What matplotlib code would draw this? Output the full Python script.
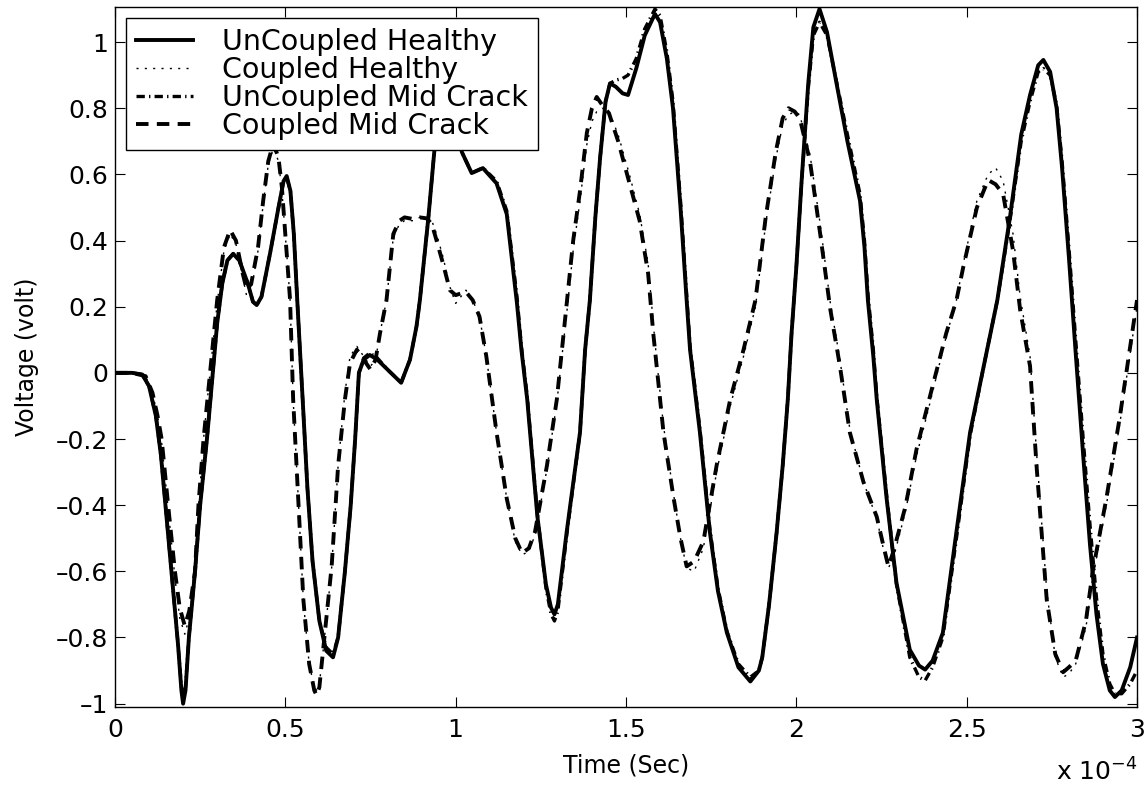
"""
Piezo sensor voltage response: coupled vs uncoupled, healthy vs mid crack
"""
import numpy as np
import matplotlib
matplotlib.use("Agg")
import matplotlib.pyplot as plt
from matplotlib.ticker import FuncFormatter

# time axis in units of 1e-4 s
t_a = [0.00, 0.05, 0.08, 0.10, 0.12, 0.135, 0.15, 0.166, 0.185, 0.195, 0.20, 0.207, 0.217,
       0.235, 0.25, 0.27, 0.287, 0.30, 0.315, 0.33, 0.347, 0.365, 0.39, 0.405, 0.416, 0.43,
       0.455, 0.48, 0.495, 0.504, 0.515, 0.525, 0.535, 0.543, 0.553, 0.565, 0.58, 0.60, 0.62,
       0.64, 0.655, 0.675, 0.692, 0.705, 0.716, 0.73, 0.748, 0.77, 0.80, 0.82, 0.84, 0.866,
       0.885, 0.895, 0.91, 0.92, 0.94, 0.96, 0.98, 1.00, 1.018, 1.047, 1.08, 1.12, 1.15, 1.18,
       1.193, 1.21, 1.24, 1.265, 1.28, 1.29, 1.30, 1.326, 1.365, 1.38, 1.394, 1.41, 1.424,
       1.44, 1.453, 1.47, 1.49, 1.506, 1.53, 1.555, 1.585, 1.60, 1.62, 1.638, 1.66, 1.678,
       1.688, 1.717, 1.746, 1.77, 1.796, 1.83, 1.865, 1.89, 1.90, 1.92, 1.942, 1.96, 1.975,
       1.986, 2.00, 2.015, 2.035, 2.05, 2.068, 2.09, 2.118, 2.15, 2.187, 2.20, 2.21, 2.226,
       2.236, 2.265, 2.294, 2.333, 2.36, 2.378, 2.40, 2.43, 2.47, 2.51, 2.55, 2.59, 2.627,
       2.66, 2.686, 2.71, 2.725, 2.745, 2.764, 2.78, 2.80, 2.82, 2.842, 2.862, 2.881, 2.90,
       2.92, 2.935, 2.955, 2.98, 3.00]

uncoupled_healthy = [0.0, 0.0, -0.005, -0.04, -0.13, -0.25, -0.42, -0.60, -0.82, -0.96, -1.0,
                     -0.96, -0.80, -0.60, -0.40, -0.20, 0.0, 0.15, 0.27, 0.34, 0.36, 0.34, 0.27,
                     0.215, 0.205, 0.23, 0.36, 0.50, 0.58, 0.595, 0.55, 0.42, 0.22, 0.07, -0.12,
                     -0.35, -0.57, -0.75, -0.84, -0.86, -0.80, -0.60, -0.40, -0.20, 0.0, 0.04,
                     0.054, 0.04, 0.01, -0.01, -0.03, 0.04, 0.14, 0.22, 0.37, 0.47, 0.70, 0.85,
                     0.90, 0.80, 0.668, 0.604, 0.619, 0.573, 0.48, 0.21, 0.07, -0.08, -0.435,
                     -0.64, -0.71, -0.73, -0.70, -0.48, -0.18, 0.07, 0.22, 0.47, 0.65, 0.82,
                     0.875, 0.865, 0.845, 0.84, 0.92, 1.02, 1.085, 1.06, 0.95, 0.80, 0.50, 0.22,
                     0.07, -0.18, -0.48, -0.66, -0.785, -0.89, -0.933, -0.90, -0.86, -0.70,
                     -0.484, -0.28, -0.08, 0.12, 0.32, 0.573, 0.875, 1.045, 1.10, 1.03, 0.875,
                     0.70, 0.52, 0.38, 0.22, 0.05, -0.08, -0.38, -0.635, -0.837, -0.885, -0.897,
                     -0.87, -0.786, -0.48, -0.18, 0.02, 0.22, 0.47, 0.72, 0.84, 0.93, 0.946,
                     0.91, 0.80, 0.62, 0.35, 0.06, -0.25, -0.52, -0.73, -0.88, -0.96, -0.98,
                     -0.96, -0.89, -0.80]

uncoupled_midcrack = [0.0, 0.0, -0.005, -0.04, -0.13, -0.25, -0.42, -0.60, -0.82, -0.95, -0.98,
                      -0.95, -0.80, -0.60, -0.40, -0.20, 0.0, 0.15, 0.27, 0.34, 0.36, 0.34, 0.27,
                      0.215, 0.205, 0.23, 0.36, 0.50, 0.58, 0.59, 0.55, 0.42, 0.22, 0.07, -0.12,
                      -0.35, -0.57, -0.75, -0.83, -0.85, -0.80, -0.60, -0.40, -0.20, 0.0, 0.045,
                      0.06, 0.045, 0.01, -0.01, -0.03, 0.04, 0.14, 0.22, 0.37, 0.47, 0.70, 0.85,
                      0.90, 0.80, 0.668, 0.604, 0.62, 0.58, 0.49, 0.23, 0.08, -0.07, -0.43,
                      -0.65, -0.73, -0.75, -0.72, -0.49, -0.18, 0.07, 0.22, 0.47, 0.65, 0.82,
                      0.875, 0.885, 0.89, 0.90, 0.95, 1.04, 1.10, 1.08, 0.97, 0.82, 0.52, 0.24,
                      0.08, -0.17, -0.47, -0.65, -0.78, -0.88, -0.92, -0.90, -0.86, -0.70,
                      -0.484, -0.28, -0.08, 0.12, 0.32, 0.57, 0.86, 1.02, 1.06, 1.02, 0.88,
                      0.72, 0.54, 0.40, 0.24, 0.07, -0.07, -0.37, -0.64, -0.86, -0.92, -0.93,
                      -0.89, -0.80, -0.50, -0.19, 0.02, 0.22, 0.46, 0.70, 0.82, 0.91, 0.92,
                      0.90, 0.81, 0.64, 0.38, 0.10, -0.20, -0.46, -0.68, -0.85, -0.94, -0.97,
                      -0.97, -0.94, -0.90]

t_b = [0.00, 0.05, 0.09, 0.11, 0.125, 0.137, 0.156, 0.176, 0.19, 0.205, 0.218, 0.235, 0.245,
       0.26, 0.279, 0.30, 0.32, 0.338, 0.355, 0.375, 0.387, 0.40, 0.42, 0.435, 0.45, 0.465,
       0.48, 0.49, 0.505, 0.514, 0.523, 0.538, 0.553, 0.57, 0.585, 0.592, 0.60, 0.611, 0.636,
       0.655, 0.675, 0.69, 0.71, 0.73, 0.75, 0.765, 0.778, 0.797, 0.817, 0.835, 0.85, 0.875,
       0.895, 0.915, 0.93, 0.944, 0.963, 0.983, 1.00, 1.03, 1.05, 1.07, 1.09, 1.12, 1.15,
       1.175, 1.195, 1.215, 1.233, 1.268, 1.297, 1.327, 1.345, 1.365, 1.385, 1.40, 1.414,
       1.43, 1.45, 1.477, 1.51, 1.54, 1.565, 1.58, 1.59, 1.61, 1.64, 1.66, 1.678, 1.70,
       1.727, 1.766, 1.806, 1.845, 1.88, 1.91, 1.94, 1.96, 1.977, 1.995, 2.01, 2.04, 2.07,
       2.10, 2.128, 2.157, 2.197, 2.236, 2.255, 2.27, 2.285, 2.32, 2.353, 2.39, 2.44, 2.47,
       2.49, 2.53, 2.563, 2.585, 2.607, 2.636, 2.657, 2.686, 2.705, 2.735, 2.76, 2.783,
       2.80, 2.82, 2.85, 2.87, 2.91, 2.95, 3.00]

coupled_midcrack = [0.0, 0.0, -0.01, -0.06, -0.13, -0.20, -0.40, -0.60, -0.71, -0.765, -0.72,
                    -0.60, -0.40, -0.20, 0.0, 0.22, 0.38, 0.432, 0.40, 0.30, 0.25, 0.27, 0.38,
                    0.52, 0.64, 0.694, 0.65, 0.56, 0.35, 0.22, -0.08, -0.38, -0.686, -0.88,
                    -0.96, -0.975, -0.95, -0.837, -0.585, -0.28, -0.08, 0.03, 0.07, 0.04, 0.01,
                    0.04, 0.12, 0.22, 0.42, 0.46, 0.47, 0.465, 0.47, 0.467, 0.45, 0.40, 0.33,
                    0.25, 0.235, 0.245, 0.22, 0.17, 0.05, -0.18, -0.38, -0.50, -0.545, -0.53,
                    -0.48, -0.28, -0.08, 0.22, 0.40, 0.55, 0.725, 0.80, 0.834, 0.81, 0.785,
                    0.70, 0.574, 0.46, 0.30, 0.12, 0.02, -0.18, -0.38, -0.50, -0.585, -0.57,
                    -0.51, -0.28, -0.08, 0.07, 0.22, 0.47, 0.67, 0.77, 0.80, 0.79, 0.77, 0.64,
                    0.42, 0.19, 0.02, -0.18, -0.33, -0.435, -0.52, -0.585, -0.54, -0.405,
                    -0.23, -0.08, 0.12, 0.22, 0.32, 0.50, 0.583, 0.57, 0.54, 0.37, 0.19, 0.02,
                    -0.28, -0.686, -0.85, -0.905, -0.89, -0.87, -0.75, -0.60, -0.38, -0.13,
                    0.22]

coupled_healthy = [0.0, 0.0, -0.01, -0.06, -0.13, -0.21, -0.41, -0.62, -0.74, -0.79, -0.74,
                   -0.61, -0.41, -0.20, 0.0, 0.21, 0.37, 0.42, 0.39, 0.29, 0.23, 0.25, 0.37,
                   0.51, 0.63, 0.68, 0.64, 0.55, 0.35, 0.22, -0.08, -0.38, -0.69, -0.88,
                   -0.95, -0.96, -0.94, -0.84, -0.59, -0.28, -0.06, 0.05, 0.08, 0.05, 0.02,
                   0.04, 0.12, 0.22, 0.41, 0.45, 0.46, 0.46, 0.47, 0.47, 0.46, 0.42, 0.35,
                   0.26, 0.21, 0.25, 0.22, 0.17, 0.05, -0.18, -0.38, -0.51, -0.55, -0.54,
                   -0.49, -0.29, -0.09, 0.19, 0.37, 0.52, 0.69, 0.76, 0.79, 0.80, 0.79,
                   0.72, 0.60, 0.48, 0.33, 0.15, 0.04, -0.16, -0.37, -0.50, -0.59, -0.60,
                   -0.53, -0.30, -0.10, 0.05, 0.20, 0.45, 0.65, 0.75, 0.78, 0.79, 0.78, 0.66,
                   0.45, 0.21, 0.04, -0.17, -0.33, -0.44, -0.53, -0.59, -0.56, -0.42,
                   -0.25, -0.10, 0.11, 0.22, 0.33, 0.52, 0.60, 0.62, 0.58, 0.42, 0.23, 0.05,
                   -0.24, -0.66, -0.86, -0.92, -0.91, -0.88, -0.77, -0.62, -0.40, -0.15,
                   0.20]

labels = ['UnCoupled Healthy', 'Coupled Healthy', 'UnCoupled Mid Crack', 'Coupled Mid Crack']

plt.rcParams['font.family'] = ['DejaVu Sans']
plt.rcParams['lines.scale_dashes'] = False

fig = plt.figure(figsize=(11.44, 7.87), dpi=100)
ax = fig.add_axes([0.1005, 0.1017, 0.8934, 0.8894])

ax.plot(t_a, uncoupled_healthy, color='k', lw=2.8, ls='-', label=labels[0])
ax.plot(t_b, coupled_healthy, color='k', lw=1.0, ls=(0, (1.5, 4.5)), label=labels[1])
ax.plot(t_a, uncoupled_midcrack, color='k', lw=2.4, ls=(0, (6, 3, 1, 3)), label=labels[2])
ax.plot(t_b, coupled_midcrack, color='k', lw=2.8, ls=(0, (9, 6)), label=labels[3])

ax.set_xlim(0, 3)
ax.set_ylim(-1.01, 1.106)
ax.set_xticks(np.arange(0, 3.01, 0.5))
ax.set_yticks(np.arange(-1, 1.01, 0.2))
ax.xaxis.set_major_formatter(FuncFormatter(lambda v, p: f"{v:g}"))
ax.yaxis.set_major_formatter(FuncFormatter(lambda v, p: f"{round(v, 1) + 0.0:g}".replace('-', '\u2013')))
ax.tick_params(direction='in', length=7, width=0.8, labelsize=18, top=True, right=True)
ax.tick_params(axis='x', pad=8)
ax.tick_params(axis='y', pad=5)
for s in ax.spines.values():
    s.set_linewidth(1.0)

ax.set_xlabel('Time (Sec)', fontsize=17, labelpad=8)
ax.set_ylabel('Voltage (volt)', fontsize=17, labelpad=12)
fig.text(1138 / 1144, 1 - 781 / 787, r'x 10$^{-4}$', fontsize=18, ha='right', va='baseline')

leg = ax.legend(loc='upper left', fontsize=20.5, frameon=True, fancybox=False, framealpha=1,
                edgecolor='k', borderaxespad=0.4, handlelength=2.0, handletextpad=1.0,
                labelspacing=0.0, borderpad=0.35)
leg.get_frame().set_linewidth(1.0)

fig.savefig('out.png', dpi=100)
